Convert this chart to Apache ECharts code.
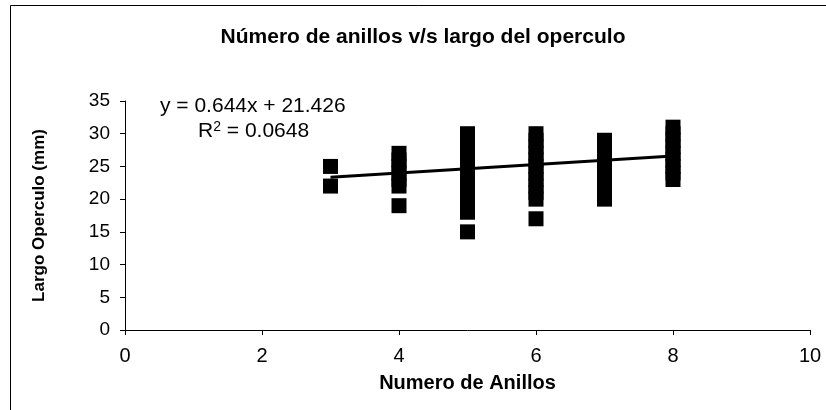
<!DOCTYPE html>
<html>
<head>
<meta charset="utf-8">
<script src="https://cdn.jsdelivr.net/npm/echarts@6/dist/echarts.min.js"></script>
<style>
html,body{margin:0;padding:0;background:#fff;}
#c{width:826px;height:410px;}
</style>
</head>
<body>
<div id="c"></div>
<script>
// Data: number of rings (x) vs operculum length in mm (y)
const ringsX = [3, 3, 4, 4, 4, 4, 4, 4, 4, 5, 5, 5, 5, 5, 5, 5, 5, 5, 5, 5, 5, 5, 5, 6, 6, 6, 6, 6, 6, 6, 6, 6, 6, 6, 6, 7, 7, 7, 7, 7, 7, 7, 7, 7, 7, 8, 8, 8, 8, 8, 8, 8, 8, 8];
const lengthY = [25, 22, 27, 26, 25, 24, 23, 22, 19, 30, 29, 28, 27, 26, 25, 24, 23, 22, 21, 20, 19, 18, 15, 30, 29, 28, 27, 26, 25, 24, 23, 22, 21, 20, 17, 29, 28, 27, 26, 25, 24, 23, 22, 21, 20, 31, 30, 29, 28, 27, 26, 25, 24, 23];
const trendSlope = 0.644;
const trendIntercept = 21.426;
const trendR2 = 0.0648;
const trendRange = [3, 8];
const xTicks = [0, 2, 4, 6, 8, 10];
const yTicks = [0, 5, 10, 15, 20, 25, 30, 35];

const points = ringsX.map((x, i) => [x, lengthY[i]]);
const trend = trendRange.map(x => [x, trendSlope * x + trendIntercept]);

const chart = echarts.init(document.getElementById('c'), null, {renderer: 'canvas'});
const font = 'Liberation Sans, Arial, sans-serif';
chart.setOption({
  animation: false,
  backgroundColor: '#fff',
  title: {
    text: 'Número de anillos v/s largo del operculo',
    left: 418, top: 22, textAlign: 'center',
    textStyle: {fontFamily: font, fontSize: 21, fontWeight: 'bold', color: '#000'}
  },
  grid: {left: 125, top: 101, width: 685, height: 229, containLabel: false},
  xAxis: {
    type: 'value', min: xTicks[0], max: xTicks[xTicks.length - 1], interval: 2,
    name: 'Numero de Anillos', nameLocation: 'middle', nameGap: 43,
    nameTextStyle: {fontFamily: font, fontSize: 20, fontWeight: 'bold', color: '#000'},
    axisLine: {lineStyle: {color: '#000', width: 1}},
    axisTick: {show: true, inside: false, length: 5, lineStyle: {color: '#000'}},
    axisLabel: {fontFamily: font, fontSize: 20, color: '#000', margin: 16},
    splitLine: {show: false}
  },
  yAxis: {
    type: 'value', min: yTicks[0], max: yTicks[yTicks.length - 1], interval: 5,
    name: 'Largo Operculo (mm)', nameLocation: 'middle', nameGap: 77,
    nameTextStyle: {fontFamily: font, fontSize: 17, fontWeight: 'bold', color: '#000'},
    axisLine: {show: true, lineStyle: {color: '#000', width: 1}},
    axisTick: {show: true, inside: false, length: 5, lineStyle: {color: '#000'}},
    axisLabel: {fontFamily: font, fontSize: 19, color: '#000', margin: 15},
    splitLine: {show: false}
  },
  series: [
    {
      type: 'scatter', data: points, symbol: 'rect', symbolSize: 15,
      itemStyle: {color: '#000', opacity: 1}, z: 2
    },
    {
      type: 'line', data: trend, symbol: 'none',
      lineStyle: {color: '#000', width: 3}, z: 3
    }
  ],
  graphic: [
    {type: 'rect', shape: {x: 10.5, y: 5.5, width: 1000, height: 1000},
     style: {fill: null, stroke: '#000', lineWidth: 1}, z: -1},
    {type: 'text', left: 160, top: 96,
     style: {text: 'y = ' + trendSlope + 'x + ' + trendIntercept, font: '21px ' + font, fill: '#000'}},
    {type: 'text', left: 198, top: 120,
     style: {text: '{a|R}{s|2}{a| = ' + trendR2 + '}', fill: '#000',
       rich: {a: {fontFamily: font, fontSize: 21, verticalAlign: 'bottom'}, s: {fontFamily: font, fontSize: 14, verticalAlign: 'top', padding: [0, 0, 8, 0]}}}}
  ]
});
</script>
</body>
</html>
